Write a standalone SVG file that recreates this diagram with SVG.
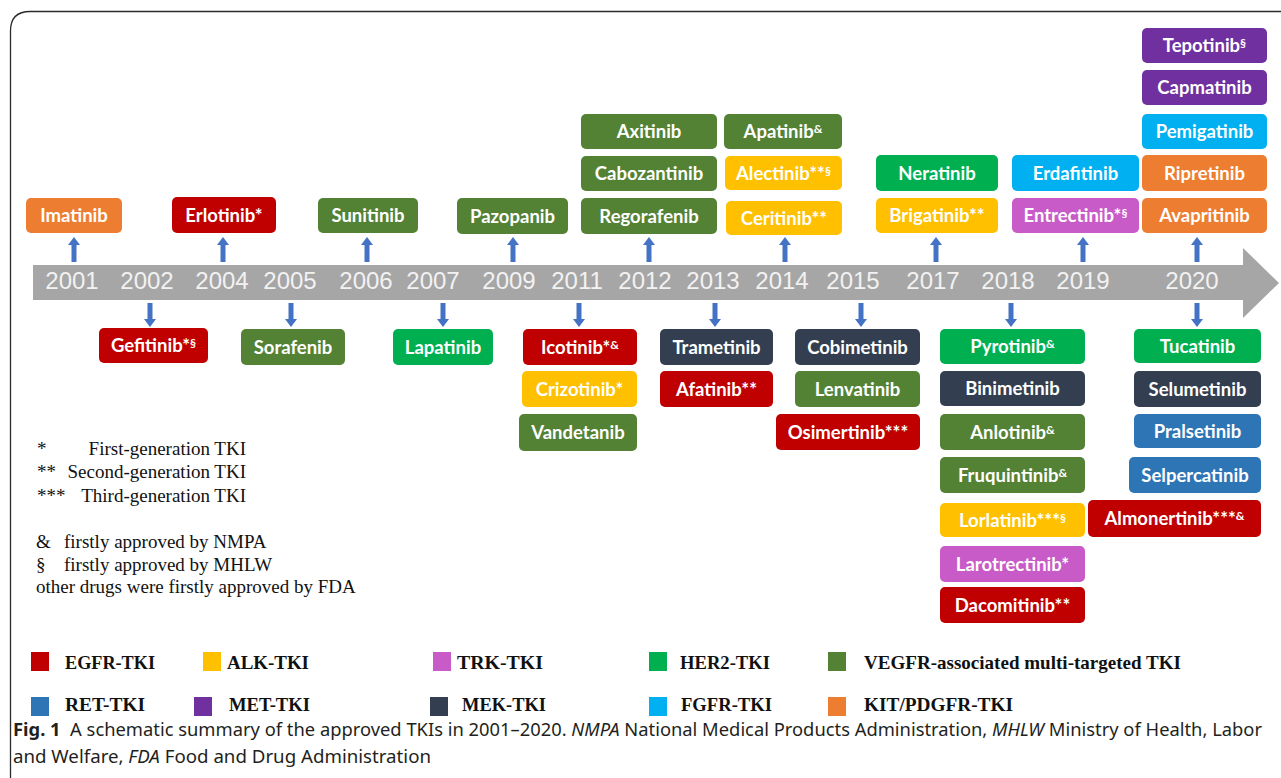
<svg xmlns="http://www.w3.org/2000/svg" width="1281" height="778" viewBox="0 0 1281 778">
<style>
.lbl{font-family:Lato,"Open Sans",sans-serif;font-weight:700;font-size:18.5px;fill:#fff;text-anchor:middle}
.sup{font-size:12px}
.kit{fill:#ed7d31}.egfr{fill:#c00000}.vegf{fill:#548235}.her2{fill:#00b050}.alk{fill:#ffc000}
.trk{fill:#c85bc8}.met{fill:#7030a0}.fgfr{fill:#00b0f0}.mek{fill:#333f50}.ret{fill:#2e75b6}
.yr{font-family:"Liberation Sans",Arial,sans-serif;font-size:24px;fill:#f2f2f2;text-anchor:middle}
.note{font-family:"Liberation Serif","Times New Roman",serif;font-size:19px;fill:#111}
.leg{font-family:"Liberation Serif","Times New Roman",serif;font-weight:700;font-size:19px;fill:#111}
.cap{font-family:"Noto Sans","Open Sans",sans-serif;font-size:18px;fill:#231f20}
.arr{fill:#4472c4}
</style>
<defs>
<path id="up" d="M0,0 L6,8 L2.5,8 L2.5,25 L-2.5,25 L-2.5,8 L-6,8 Z"/>
<path id="down" d="M0,24 L6,16 L2.5,16 L2.5,0 L-2.5,0 L-2.5,16 L-6,16 Z"/>
</defs>
<rect width="1281" height="778" fill="#fff"/>
<path d="M10.5,778 V31 Q10.5,11.5 30,11.5 H1281" fill="none" stroke="#2b2b2b" stroke-width="1.3"/>

<g id="timeline">
<polygon points="33,265 1243,265 1243,248 1279,283 1243,318 1243,300 33,300" fill="#a6a6a6"/>
<text class="yr" x="72" y="289">2001</text>
<text class="yr" x="147" y="289">2002</text>
<text class="yr" x="222" y="289">2004</text>
<text class="yr" x="290" y="289">2005</text>
<text class="yr" x="366" y="289">2006</text>
<text class="yr" x="433" y="289">2007</text>
<text class="yr" x="509" y="289">2009</text>
<text class="yr" x="577" y="289">2011</text>
<text class="yr" x="645" y="289">2012</text>
<text class="yr" x="713" y="289">2013</text>
<text class="yr" x="782" y="289">2014</text>
<text class="yr" x="853" y="289">2015</text>
<text class="yr" x="933" y="289">2017</text>
<text class="yr" x="1008" y="289">2018</text>
<text class="yr" x="1083" y="289">2019</text>
<text class="yr" x="1192" y="289">2020</text>
</g>

<g id="connectors" class="arr">
<use href="#up" x="74" y="237"/>
<use href="#up" x="223" y="237"/>
<use href="#up" x="367" y="237"/>
<use href="#up" x="513" y="237"/>
<use href="#up" x="649" y="237"/>
<use href="#up" x="785" y="237"/>
<use href="#up" x="936" y="237"/>
<use href="#up" x="1083" y="237"/>
<use href="#up" x="1197" y="237"/>
<use href="#down" x="150" y="303"/>
<use href="#down" x="291" y="303"/>
<use href="#down" x="443" y="303"/>
<use href="#down" x="579" y="303"/>
<use href="#down" x="715" y="303"/>
<use href="#down" x="861" y="303"/>
<use href="#down" x="1011" y="303"/>
<use href="#down" x="1197" y="303"/>
</g>

<g id="n-imatinib"><rect class="kit" x="26" y="198" width="96" height="35" rx="5"/><text class="lbl" x="74" y="222">Imatinib</text></g>
<g id="n-erlotinib"><rect class="egfr" x="172" y="197" width="104" height="36" rx="5"/><text class="lbl" x="224" y="221.5">Erlotinib*</text></g>
<g id="n-sunitinib"><rect class="vegf" x="318" y="198" width="100" height="35" rx="5"/><text class="lbl" x="368" y="222">Sunitinib</text></g>
<g id="n-pazopanib"><rect class="vegf" x="457" y="198" width="111" height="36" rx="5"/><text class="lbl" x="512.5" y="222.5">Pazopanib</text></g>
<g id="n-axitinib"><rect class="vegf" x="581" y="114" width="136" height="35" rx="5"/><text class="lbl" x="649" y="138">Axitinib</text></g>
<g id="n-cabozantinib"><rect class="vegf" x="581" y="156" width="136" height="35" rx="5"/><text class="lbl" x="649" y="180">Cabozantinib</text></g>
<g id="n-regorafenib"><rect class="vegf" x="581" y="198" width="136" height="36" rx="5"/><text class="lbl" x="649" y="222.5">Regorafenib</text></g>
<g id="n-apatinib"><rect class="vegf" x="724" y="114" width="118" height="35" rx="5"/><text class="lbl" x="783" y="138">Apatinib<tspan class="sup" dy="-5">&amp;</tspan></text></g>
<g id="n-alectinib"><rect class="alk" x="725" y="156" width="117" height="34" rx="5"/><text class="lbl" x="783.5" y="179.5">Alectinib**<tspan class="sup" dy="-5">§</tspan></text></g>
<g id="n-ceritinib"><rect class="alk" x="726" y="201" width="116" height="34" rx="5"/><text class="lbl" x="784" y="224.5">Ceritinib**</text></g>
<g id="n-neratinib"><rect class="her2" x="876" y="155" width="122" height="36" rx="5"/><text class="lbl" x="937" y="179.5">Neratinib</text></g>
<g id="n-brigatinib"><rect class="alk" x="876" y="198" width="122" height="35" rx="5"/><text class="lbl" x="937" y="222">Brigatinib**</text></g>
<g id="n-erdafitinib"><rect class="fgfr" x="1012" y="155" width="127" height="36" rx="5"/><text class="lbl" x="1075.5" y="179.5">Erdafitinib</text></g>
<g id="n-entrectinib"><rect class="trk" x="1012" y="198" width="127" height="35" rx="5"/><text class="lbl" x="1075.5" y="222">Entrectinib*<tspan class="sup" dy="-5">§</tspan></text></g>
<g id="n-tepotinib"><rect class="met" x="1142" y="28" width="125" height="35" rx="5"/><text class="lbl" x="1204.5" y="52">Tepotinib<tspan class="sup" dy="-5">§</tspan></text></g>
<g id="n-capmatinib"><rect class="met" x="1142" y="70" width="125" height="35" rx="5"/><text class="lbl" x="1204.5" y="94">Capmatinib</text></g>
<g id="n-pemigatinib"><rect class="fgfr" x="1142" y="114" width="125" height="35" rx="5"/><text class="lbl" x="1204.5" y="138">Pemigatinib</text></g>
<g id="n-ripretinib"><rect class="kit" x="1142" y="155" width="125" height="36" rx="5"/><text class="lbl" x="1204.5" y="179.5">Ripretinib</text></g>
<g id="n-avapritinib"><rect class="kit" x="1142" y="198" width="125" height="35" rx="5"/><text class="lbl" x="1204.5" y="222">Avapritinib</text></g>

<g id="n-gefitinib"><rect class="egfr" x="99" y="328" width="109" height="35" rx="5"/><text class="lbl" x="153.5" y="352">Gefitinib*<tspan class="sup" dy="-5">§</tspan></text></g>
<g id="n-sorafenib"><rect class="vegf" x="241" y="329" width="104" height="36" rx="5"/><text class="lbl" x="293" y="353.5">Sorafenib</text></g>
<g id="n-lapatinib"><rect class="her2" x="393" y="329" width="100" height="36" rx="5"/><text class="lbl" x="443" y="353.5">Lapatinib</text></g>
<g id="n-icotinib"><rect class="egfr" x="523" y="329" width="114" height="36" rx="5"/><text class="lbl" x="580" y="353.5">Icotinib*<tspan class="sup" dy="-5">&amp;</tspan></text></g>
<g id="n-crizotinib"><rect class="alk" x="522" y="371" width="115" height="36" rx="5"/><text class="lbl" x="579.5" y="395.5">Crizotinib*</text></g>
<g id="n-vandetanib"><rect class="vegf" x="519" y="414" width="118" height="37" rx="5"/><text class="lbl" x="578" y="439">Vandetanib</text></g>
<g id="n-trametinib"><rect class="mek" x="660" y="329" width="113" height="36" rx="5"/><text class="lbl" x="716.5" y="353.5">Trametinib</text></g>
<g id="n-afatinib"><rect class="egfr" x="660" y="371" width="113" height="36" rx="5"/><text class="lbl" x="716.5" y="395.5">Afatinib**</text></g>
<g id="n-cobimetinib"><rect class="mek" x="795" y="329" width="125" height="36" rx="5"/><text class="lbl" x="857.5" y="353.5">Cobimetinib</text></g>
<g id="n-lenvatinib"><rect class="vegf" x="795" y="371" width="125" height="36" rx="5"/><text class="lbl" x="857.5" y="395.5">Lenvatinib</text></g>
<g id="n-osimertinib"><rect class="egfr" x="776" y="414" width="144" height="36" rx="5"/><text class="lbl" x="848" y="438.5">Osimertinib***</text></g>
<g id="n-pyrotinib"><rect class="her2" x="940" y="329" width="145" height="35" rx="5"/><text class="lbl" x="1012.5" y="353">Pyrotinib<tspan class="sup" dy="-5">&amp;</tspan></text></g>
<g id="n-binimetinib"><rect class="mek" x="940" y="371" width="145" height="35" rx="5"/><text class="lbl" x="1012.5" y="395">Binimetinib</text></g>
<g id="n-anlotinib"><rect class="vegf" x="940" y="414" width="145" height="36" rx="5"/><text class="lbl" x="1012.5" y="438.5">Anlotinib<tspan class="sup" dy="-5">&amp;</tspan></text></g>
<g id="n-fruquintinib"><rect class="vegf" x="940" y="457" width="145" height="36" rx="5"/><text class="lbl" x="1012.5" y="481.5">Fruquintinib<tspan class="sup" dy="-5">&amp;</tspan></text></g>
<g id="n-lorlatinib"><rect class="alk" x="940" y="503" width="145" height="34" rx="5"/><text class="lbl" x="1012.5" y="526.5">Lorlatinib***<tspan class="sup" dy="-5">§</tspan></text></g>
<g id="n-larotrectinib"><rect class="trk" x="940" y="546" width="145" height="36" rx="5"/><text class="lbl" x="1012.5" y="570.5">Larotrectinib*</text></g>
<g id="n-dacomitinib"><rect class="egfr" x="940" y="587" width="145" height="36" rx="5"/><text class="lbl" x="1012.5" y="611.5">Dacomitinib**</text></g>
<g id="n-tucatinib"><rect class="her2" x="1134" y="329" width="127" height="34" rx="5"/><text class="lbl" x="1197.5" y="352.5">Tucatinib</text></g>
<g id="n-selumetinib"><rect class="mek" x="1134" y="371" width="127" height="36" rx="5"/><text class="lbl" x="1197.5" y="395.5">Selumetinib</text></g>
<g id="n-pralsetinib"><rect class="ret" x="1134" y="414" width="127" height="34" rx="5"/><text class="lbl" x="1197.5" y="437.5">Pralsetinib</text></g>
<g id="n-selpercatinib"><rect class="ret" x="1129" y="457" width="132" height="36" rx="5"/><text class="lbl" x="1195" y="481.5">Selpercatinib</text></g>
<g id="n-almonertinib"><rect class="egfr" x="1088" y="500" width="173" height="37" rx="5"/><text class="lbl" x="1174.5" y="525">Almonertinib***<tspan class="sup" dy="-5">&amp;</tspan></text></g>

<g id="notes">
<text class="note" x="37" y="455">*</text><text class="note" x="246" y="455" text-anchor="end">First-generation TKI</text>
<text class="note" x="37" y="478">**</text><text class="note" x="246" y="478" text-anchor="end">Second-generation TKI</text>
<text class="note" x="37" y="502">***</text><text class="note" x="246" y="502" text-anchor="end">Third-generation TKI</text>
<text class="note" x="36" y="548">&amp;</text><text class="note" x="64" y="548">firstly approved by NMPA</text>
<text class="note" x="36" y="571">§</text><text class="note" x="64" y="571">firstly approved by MHLW</text>
<text class="note" x="36" y="593">other drugs were firstly approved by FDA</text>
</g>

<g id="legend">
<rect class="egfr" x="31" y="652" width="18" height="19"/><text class="leg" x="65" y="669" textLength="90" lengthAdjust="spacingAndGlyphs">EGFR-TKI</text>
<rect class="alk" x="203" y="652" width="18" height="19"/><text class="leg" x="227" y="669" textLength="82" lengthAdjust="spacingAndGlyphs">ALK-TKI</text>
<rect class="trk" x="433" y="652" width="18" height="19"/><text class="leg" x="457" y="669" textLength="86" lengthAdjust="spacingAndGlyphs">TRK-TKI</text>
<rect class="her2" x="649" y="652" width="18" height="19"/><text class="leg" x="680" y="669" textLength="90" lengthAdjust="spacingAndGlyphs">HER2-TKI</text>
<rect class="vegf" x="828" y="652" width="18" height="19"/><text class="leg" x="864" y="669" textLength="317" lengthAdjust="spacingAndGlyphs">VEGFR-associated multi-targeted TKI</text>
<rect class="ret" x="31" y="697" width="18" height="19"/><text class="leg" x="65" y="711" textLength="80" lengthAdjust="spacingAndGlyphs">RET-TKI</text>
<rect class="met" x="194" y="697" width="18" height="19"/><text class="leg" x="229" y="711" textLength="81" lengthAdjust="spacingAndGlyphs">MET-TKI</text>
<rect class="mek" x="430" y="697" width="18" height="19"/><text class="leg" x="462" y="711" textLength="84" lengthAdjust="spacingAndGlyphs">MEK-TKI</text>
<rect class="fgfr" x="649" y="697" width="18" height="19"/><text class="leg" x="681" y="711" textLength="91" lengthAdjust="spacingAndGlyphs">FGFR-TKI</text>
<rect class="kit" x="828" y="697" width="18" height="19"/><text class="leg" x="864" y="711" textLength="149" lengthAdjust="spacingAndGlyphs">KIT/PDGFR-TKI</text>
</g>

<g id="caption">
<text class="cap" x="13" y="736" textLength="1249" lengthAdjust="spacingAndGlyphs"><tspan font-weight="700">Fig. 1</tspan>&#160;&#160;A schematic summary of the approved TKIs in 2001–2020. <tspan font-style="italic">NMPA</tspan> National Medical Products Administration, <tspan font-style="italic">MHLW</tspan> Ministry of Health, Labor</text>
<text class="cap" x="13" y="763" textLength="418" lengthAdjust="spacingAndGlyphs">and Welfare, <tspan font-style="italic">FDA</tspan> Food and Drug Administration</text>
</g>
</svg>
